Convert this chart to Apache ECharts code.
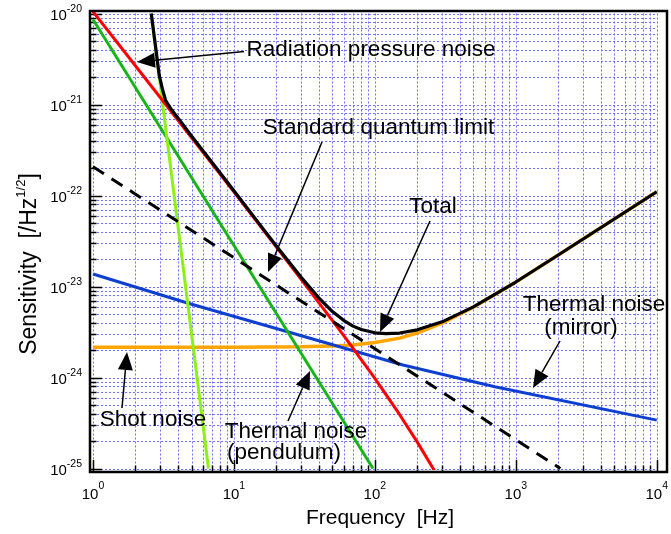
<!DOCTYPE html>
<html>
<head>
<meta charset="utf-8">
<script src="https://cdn.jsdelivr.net/npm/echarts@6/dist/echarts.min.js"></script>
<style>
html, body { margin: 0; padding: 0; background: #fff; }
#chart { width: 671px; height: 534px; }
</style>
</head>
<body>
<div id="chart"></div>
<script>
// frequency in Hz, sensitivity in 1/sqrt(Hz)
const seisFreq = [2.59, 6.6];
const seisNoise = [1.0e-20, 1.0e-25];

const pendFreq = [1, 97];
const pendNoise = [8.6e-21, 1.0e-25];

const radFreq = [1, 10, 30, 60, 100, 150, 200, 270];
const radNoise = [1.05e-20, 1.1e-22, 1.2e-23, 2.9e-24, 9.8e-25, 3.9e-25, 1.95e-25, 9.0e-26];

const shotFreq = [1, 10, 30, 50, 70, 100, 150, 200, 300, 500, 1000, 2000, 5000, 10000];
const shotNoise = [2.15e-24, 2.15e-24, 2.18e-24, 2.22e-24, 2.28e-24, 2.42e-24, 2.71e-24, 3.08e-24,
    3.95e-24, 5.92e-24, 1.117e-23, 2.22e-23, 5.52e-23, 1.10e-22];

const mirrorFreq = [1, 4.8, 24, 158, 710, 10000];
const mirrorNoise = [1.37e-23, 6.5e-24, 3.18e-24, 1.37e-24, 7.9e-25, 3.4e-25];

const sqlFreq = [1, 2070];
const sqlNoise = [2.07e-22, 1.0e-25];

const totalFreq = [2.59, 2.75, 2.95, 3.1, 3.28, 3.6, 4.07, 5, 7, 10, 15, 20, 30, 40, 50, 60, 70, 80,
    100, 120, 150, 200, 300, 500, 1000, 2000, 5000, 10000];
const totalNoise = [1.0e-20, 4.9e-21, 2.1e-21, 1.5e-21, 1.1e-21, 8.8e-22, 6.9e-22, 4.5e-22, 2.3e-22,
    1.13e-22, 4.97e-23, 2.79e-23, 1.26e-23, 7.5e-24, 5.3e-24, 4.25e-24, 3.67e-24, 3.37e-24,
    3.1e-24, 3.03e-24, 3.08e-24, 3.34e-24, 4.09e-24, 5.98e-24, 1.12e-23, 2.22e-23, 5.52e-23, 1.10e-22];

// decades (exponents) for axes
const xExp = [0, 1, 2, 3, 4];
const yExp = [-25, -24, -23, -22, -21, -20];
const minorSteps = [2, 3, 4, 5, 6, 7, 8, 9];

const FONT = '"Liberation Sans", Arial, Helvetica, sans-serif';

const toLog = (fs, ss) => fs.map((f, i) => [Math.log10(f), Math.log10(ss[i])]);

// grid lines + ticks: [axis, exponent value, isMajor]
const gridData = [];
xExp.forEach((d, i) => {
    gridData.push([0, d, 1]);
    if (i < xExp.length - 1) minorSteps.forEach(k => gridData.push([0, d + Math.log10(k), 0]));
});
yExp.forEach((d, i) => {
    gridData.push([1, d, 1]);
    if (i < yExp.length - 1) minorSteps.forEach(k => gridData.push([1, d + Math.log10(k), 0]));
});

const xMin = xExp[0], xMax = xExp[xExp.length - 1];
const yMin = yExp[0], yMax = yExp[yExp.length - 1];

function renderGrid(params, api) {
    const axis = api.value(0), v = api.value(1), major = api.value(2) === 1;
    const dots = { stroke: '#7070ff', lineWidth: 1, lineDash: [2, 2] };
    const tick = { stroke: '#000', lineWidth: 1.5 };
    const len = major ? 12 : 6.5;
    if (axis === 0) {
        const a = api.coord([v, yMax]), b = api.coord([v, yMin]);
        const x = Math.round(a[0]) + 0.5;
        const y0 = b[1] + 3.5;
        return { type: 'group', children: [
            { type: 'line', shape: { x1: x, y1: a[1], x2: x, y2: b[1] }, style: dots },
            { type: 'line', shape: { x1: x, y1: y0, x2: x, y2: y0 - len }, style: tick }
        ] };
    }
    const a = api.coord([xMin, v]), b = api.coord([xMax, v]);
    const y = Math.round(a[1]) + 0.5;
    const x0 = a[0] - 3;
    return { type: 'group', children: [
        { type: 'line', shape: { x1: a[0], y1: y, x2: b[0], y2: y }, style: dots },
        { type: 'line', shape: { x1: x0, y1: y, x2: x0 + len, y2: y }, style: tick }
    ] };
}

function arrow(x1, y1, x2, y2) {
    const ang = Math.atan2(y2 - y1, x2 - x1);
    const len = 18, half = 7.5;
    const bx = x2 - len * Math.cos(ang), by = y2 - len * Math.sin(ang);
    const px = -Math.sin(ang) * half, py = Math.cos(ang) * half;
    return [
        { type: 'line', z: 50, shape: { x1: x1, y1: y1, x2: bx, y2: by }, style: { stroke: '#000', lineWidth: 1.5 } },
        { type: 'polygon', z: 50, shape: { points: [[x2, y2], [bx + px, by + py], [bx - px, by - py]] }, style: { fill: '#000' } }
    ];
}

function label(text, x, y, size) {
    return { type: 'text', z: 50, x: x, y: y, style: {
        text: text, fill: '#000', fontSize: size || 22.5, fontFamily: FONT, align: 'center', verticalAlign: 'middle'
    } };
}

function curve(name, fs, ss, color, width, z, dash) {
    return {
        name: name, type: 'line', data: toLog(fs, ss), symbol: 'none', z: z, silent: true,
        lineStyle: { color: color, width: width, type: dash || 'solid', cap: 'butt' }
    };
}

const chart = echarts.init(document.getElementById('chart'));
chart.setOption({
    animation: false,
    backgroundColor: '#fff',
    grid: { left: 93, right: 7, top: 13.5, bottom: 65.5 },
    xAxis: {
        type: 'value', min: xMin, max: xMax, interval: 1,
        axisLine: { show: false }, axisTick: { show: false }, splitLine: { show: false },
        axisLabel: {
            margin: 12.5, color: '#000', fontFamily: FONT,
            formatter: v => '{b|10}{s|' + v + '}',
            rich: {
                b: { fontSize: 15, lineHeight: 28, fontFamily: FONT, color: '#000' },
                s: { fontSize: 10.5, lineHeight: 10, verticalAlign: 'top', fontFamily: FONT, color: '#000' }
            }
        }
    },
    yAxis: {
        type: 'value', min: yMin, max: yMax, interval: 1,
        axisLine: { show: false }, axisTick: { show: false }, splitLine: { show: false },
        axisLabel: {
            margin: 11, color: '#000', fontFamily: FONT, padding: [5, 0, 0, 0],
            formatter: v => '{b|10}{s|' + v + '}',
            rich: {
                b: { fontSize: 15, lineHeight: 24, fontFamily: FONT, color: '#000' },
                s: { fontSize: 10.5, lineHeight: 10, verticalAlign: 'top', fontFamily: FONT, color: '#000' }
            }
        }
    },
    series: [
        { type: 'custom', coordinateSystem: 'cartesian2d', renderItem: renderGrid, data: gridData,
          clip: false, silent: true, z: 1 },
        curve('Shot noise', shotFreq, shotNoise, '#ffa500', 3.5, 2),
        curve('Thermal noise (mirror)', mirrorFreq, mirrorNoise, '#0f3fcf', 3, 3),
        curve('Thermal noise (pendulum)', pendFreq, pendNoise, '#19b419', 3, 4),
        curve('Seismic noise', seisFreq, seisNoise, '#8ef01a', 3, 5),
        curve('Radiation pressure noise', radFreq, radNoise, '#ff0000', 3, 6),
        curve('Standard quantum limit', sqlFreq, sqlNoise, '#000', 3, 7, [13, 9]),
        curve('Total', totalFreq, totalNoise, '#000', 3.2, 8)
    ],
    graphic: [
        { type: 'rect', z: 60, shape: { x: 90, y: 11, width: 577, height: 461 },
          style: { fill: null, stroke: '#000', lineWidth: 2.5 } },
        label('Radiation pressure noise', 371, 50),
        label('Standard quantum limit', 378.5, 128),
        label('Total', 433, 207),
        label('Thermal noise', 594, 305),
        label('(mirror)', 581, 328),
        label('Shot noise', 153, 420),
        label('Thermal noise', 296, 432),
        label('(pendulum)', 284, 453),
        ...arrow(244, 51.5, 137, 62),
        ...arrow(322, 142, 268, 272),
        ...arrow(430, 221, 380, 332),
        ...arrow(560, 341, 533, 388),
        ...arrow(122, 408, 127, 352),
        ...arrow(288, 421, 310, 371),
        label('Frequency  [Hz]', 380, 518, 21),
        { type: 'text', z: 50, x: 30, y: 264, rotation: Math.PI / 2, style: {
            text: 'Sensitivity  [/Hz{sup|1/2}]', fill: '#000', fontSize: 23, fontFamily: FONT,
            lineHeight: 30, align: 'center', verticalAlign: 'middle',
            rich: { sup: { fontSize: 13, lineHeight: 14, verticalAlign: 'top', fontFamily: FONT } }
        } }
    ]
});
</script>
</body>
</html>
